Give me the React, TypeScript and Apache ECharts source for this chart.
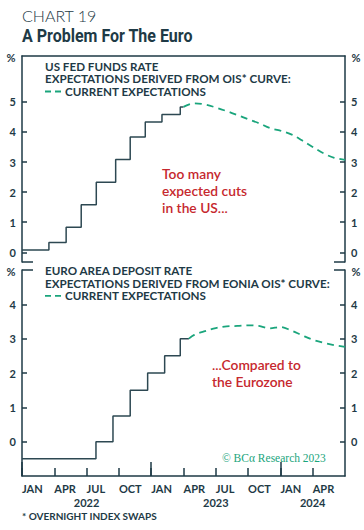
import React, { useEffect, useRef } from "react";
import * as echarts from "echarts";

// Months counted from Jan 2022 (0) to Jul 2024 (30)
const monthNames = ["JAN", "APR", "JUL", "OCT"];
const yearLabels: Record<number, string> = { 6: "2022", 18: "2023", 27: "2024" };

const usStepMonths = [0, 2.5, 4.1, 5.5, 6.9, 8.7, 10.05, 11.45, 13.0, 14.7, 15.0];
const usStepValues = [0.08, 0.33, 0.83, 1.58, 2.33, 3.08, 3.83, 4.33, 4.58, 4.83, 4.83];

const usExpMonths = [15, 16, 17, 18, 19, 20, 21, 22, 23, 24, 25, 26, 27, 28, 29, 30];
const usExpValues = [4.83, 4.95, 4.91, 4.81, 4.69, 4.56, 4.42, 4.29, 4.13, 4.04, 3.92, 3.72, 3.5, 3.29, 3.14, 3.07];

const euStepMonths = [0, 6.87, 8.45, 10.05, 11.67, 13.25, 14.7, 15.5];
const euStepValues = [-0.5, 0, 0.75, 1.5, 2.0, 2.5, 3.0, 3.0];

const euExpMonths = [15.5, 16, 17, 18, 19, 20, 21, 22, 23, 24, 25, 26, 27, 28, 29, 30];
const euExpValues = [3.0, 3.11, 3.22, 3.31, 3.36, 3.37, 3.39, 3.37, 3.3, 3.34, 3.24, 3.1, 2.97, 2.88, 2.81, 2.76];

const usTicks = [0, 1, 2, 3, 4, 5];
const euTicks = [0, 1, 2, 3, 4];

const DARK = "#1e3a46";
const LINE = "#2d4852";
const GREEN = "#1aa57c";
const RED = "#c6282e";
const FONT = "Lato, 'Noto Sans', sans-serif";

const US_MIN = -0.32;
const US_MAX = 6.52;
const EU_MIN = -1;
const EU_MAX = 5;

function zip(a: number[], b: number[]) {
  return a.map((v, i) => [v, b[i]]);
}

export default function App() {
  const ref = useRef<HTMLDivElement>(null);
  useEffect(() => {
    document.body.style.margin = "0";
    if (!ref.current) return;
    const chart = echarts.init(ref.current, undefined, { renderer: "svg" });

    const axisLine = { show: true, onZero: false, lineStyle: { color: DARK, width: 1.5 } };
    const tickLabel = { color: DARK, fontSize: 11, fontWeight: "bold" as const, fontFamily: FONT };

    const yMain = (grid: number, pos: "left" | "right", min: number, max: number, ticks: number[]) => ({
      type: "value",
      gridIndex: grid,
      position: pos,
      min,
      max,
      axisLine,
      splitLine: { show: false },
      axisTick: { show: true, inside: true, length: 5, lineStyle: { color: DARK, width: 1.5 }, customValues: ticks },
      axisLabel: { ...tickLabel, margin: 6, customValues: ticks },
    });
    const yEnd = (grid: number, pos: "left" | "right", min: number, max: number, v: number) => ({
      type: "value",
      gridIndex: grid,
      position: pos,
      min,
      max,
      axisLine: { show: false, onZero: false },
      splitLine: { show: false },
      axisTick: { show: true, inside: true, length: 11, lineStyle: { color: DARK, width: 1.5 }, customValues: [v] },
      axisLabel: { show: false },
    });

    const text = (t: string, x: number, y: number, font: string, fill: string, align = "left", scaleX = 1) => ({
      type: "text",
      x,
      y,
      scaleX,
      style: { text: t, font, fill, align, verticalAlign: "middle" },
    });

    const legendFont = `bold 10.4px ${FONT}`;
    const LS = 1.12;
    const redFont = `600 13.8px ${FONT}`;

    chart.setOption({
      animation: false,
      grid: [
        { left: 22, top: 56, width: 323, height: 206 },
        { left: 22, top: 270, width: 323, height: 206 },
      ],
      xAxis: [
        {
          type: "value",
          gridIndex: 0,
          position: "top",
          min: 0,
          max: 30,
          axisLine,
          axisTick: { show: false },
          axisLabel: { show: false },
          splitLine: { show: false },
        },
        {
          type: "value",
          gridIndex: 1,
          position: "bottom",
          min: 0,
          max: 30,
          interval: 3,
          axisLine,
          axisTick: { show: true, inside: true, length: 8, lineStyle: { color: DARK, width: 1.5 } },
          axisLabel: {
            ...tickLabel,
            margin: 7,
            align: "left",
            showMaxLabel: false,
            formatter: (v: number) => monthNames[Math.round(v / 3) % 4],
          },
          splitLine: { show: false },
        },
        {
          type: "value",
          gridIndex: 1,
          position: "bottom",
          min: 0,
          max: 30,
          axisLine: { show: false, onZero: false },
          axisTick: { show: true, inside: true, length: 14, lineStyle: { color: DARK, width: 1.5 }, customValues: [0, 12, 24] },
          axisLabel: {
            ...tickLabel,
            margin: 21,
            customValues: [6, 18, 27],
            formatter: (v: number) => yearLabels[Math.round(v)] || "",
          },
          splitLine: { show: false },
        },
      ],
      yAxis: [
        yMain(0, "left", US_MIN, US_MAX, usTicks),
        yMain(0, "right", US_MIN, US_MAX, usTicks),
        yEnd(0, "left", US_MIN, US_MAX, US_MIN),
        yEnd(0, "right", US_MIN, US_MAX, US_MIN),
        yMain(1, "left", EU_MIN, EU_MAX, euTicks),
        yMain(1, "right", EU_MIN, EU_MAX, euTicks),
        yEnd(1, "left", EU_MIN, EU_MAX, EU_MAX),
        yEnd(1, "right", EU_MIN, EU_MAX, EU_MAX),
      ],
      series: [
        {
          type: "line",
          xAxisIndex: 0,
          yAxisIndex: 0,
          step: "end",
          data: zip(usStepMonths, usStepValues),
          symbol: "none",
          lineStyle: { color: LINE, width: 1.5 },
          z: 3,
        },
        {
          type: "line",
          xAxisIndex: 0,
          yAxisIndex: 0,
          smooth: 0.35,
          data: zip(usExpMonths, usExpValues),
          symbol: "none",
          lineStyle: { color: GREEN, width: 1.8, type: [7, 5] },
        },
        {
          type: "line",
          xAxisIndex: 1,
          yAxisIndex: 4,
          step: "end",
          data: zip(euStepMonths, euStepValues),
          symbol: "none",
          lineStyle: { color: LINE, width: 1.5 },
          z: 3,
        },
        {
          type: "line",
          xAxisIndex: 1,
          yAxisIndex: 4,
          smooth: 0.35,
          data: zip(euExpMonths, euExpValues),
          symbol: "none",
          lineStyle: { color: GREEN, width: 1.8, type: [7, 5] },
        },
      ],
      graphic: [
        text("CHART 19", 22, 15, `300 16px ${FONT}`, DARK),
        text("A Problem For The Euro", 22, 36, `bold 18px 'Roboto', sans-serif`, DARK, "left", 0.89),
        text("%", 11, 57, `bold 11px ${FONT}`, DARK, "center"),
        text("%", 356, 57, `bold 11px ${FONT}`, DARK, "center"),
        text("%", 11, 271, `bold 11px ${FONT}`, DARK, "center"),
        text("%", 356, 271, `bold 11px ${FONT}`, DARK, "center"),
        text("US FED FUNDS RATE", 45, 66.3, legendFont, DARK, "left", LS),
        text("EXPECTATIONS DERIVED FROM OIS* CURVE:", 45, 78.9, legendFont, DARK, "left", LS),
        {
          type: "line",
          shape: { x1: 45, y1: 91.5, x2: 62, y2: 91.5 },
          style: { stroke: GREEN, lineWidth: 1.8, lineDash: [6, 4] },
        },
        text("CURRENT EXPECTATIONS", 65, 91.5, legendFont, DARK, "left", LS),
        text("EURO AREA DEPOSIT RATE", 45, 270.7, legendFont, DARK, "left", LS),
        text("EXPECTATIONS DERIVED FROM EONIA OIS* CURVE:", 45, 283.3, legendFont, DARK, "left", LS),
        {
          type: "line",
          shape: { x1: 45, y1: 295.9, x2: 62, y2: 295.9 },
          style: { stroke: GREEN, lineWidth: 1.8, lineDash: [6, 4] },
        },
        text("CURRENT EXPECTATIONS", 65, 295.9, legendFont, DARK, "left", LS),
        text("Too many", 162, 173, redFont, RED),
        text("expected cuts", 162, 190, redFont, RED),
        text("in the US...", 162, 207, redFont, RED),
        text("...Compared to", 212, 364, redFont, RED),
        text("the Eurozone", 212, 381, redFont, RED),
        text("© BCα Research 2023", 222, 458, `11.5px 'Liberation Serif', serif`, GREEN),
        text("* OVERNIGHT INDEX SWAPS", 22, 516, `bold 10px ${FONT}`, DARK),
      ],
    });
    return () => chart.dispose();
  }, []);
  return <div ref={ref} style={{ width: 364, height: 530 }} />;
}
